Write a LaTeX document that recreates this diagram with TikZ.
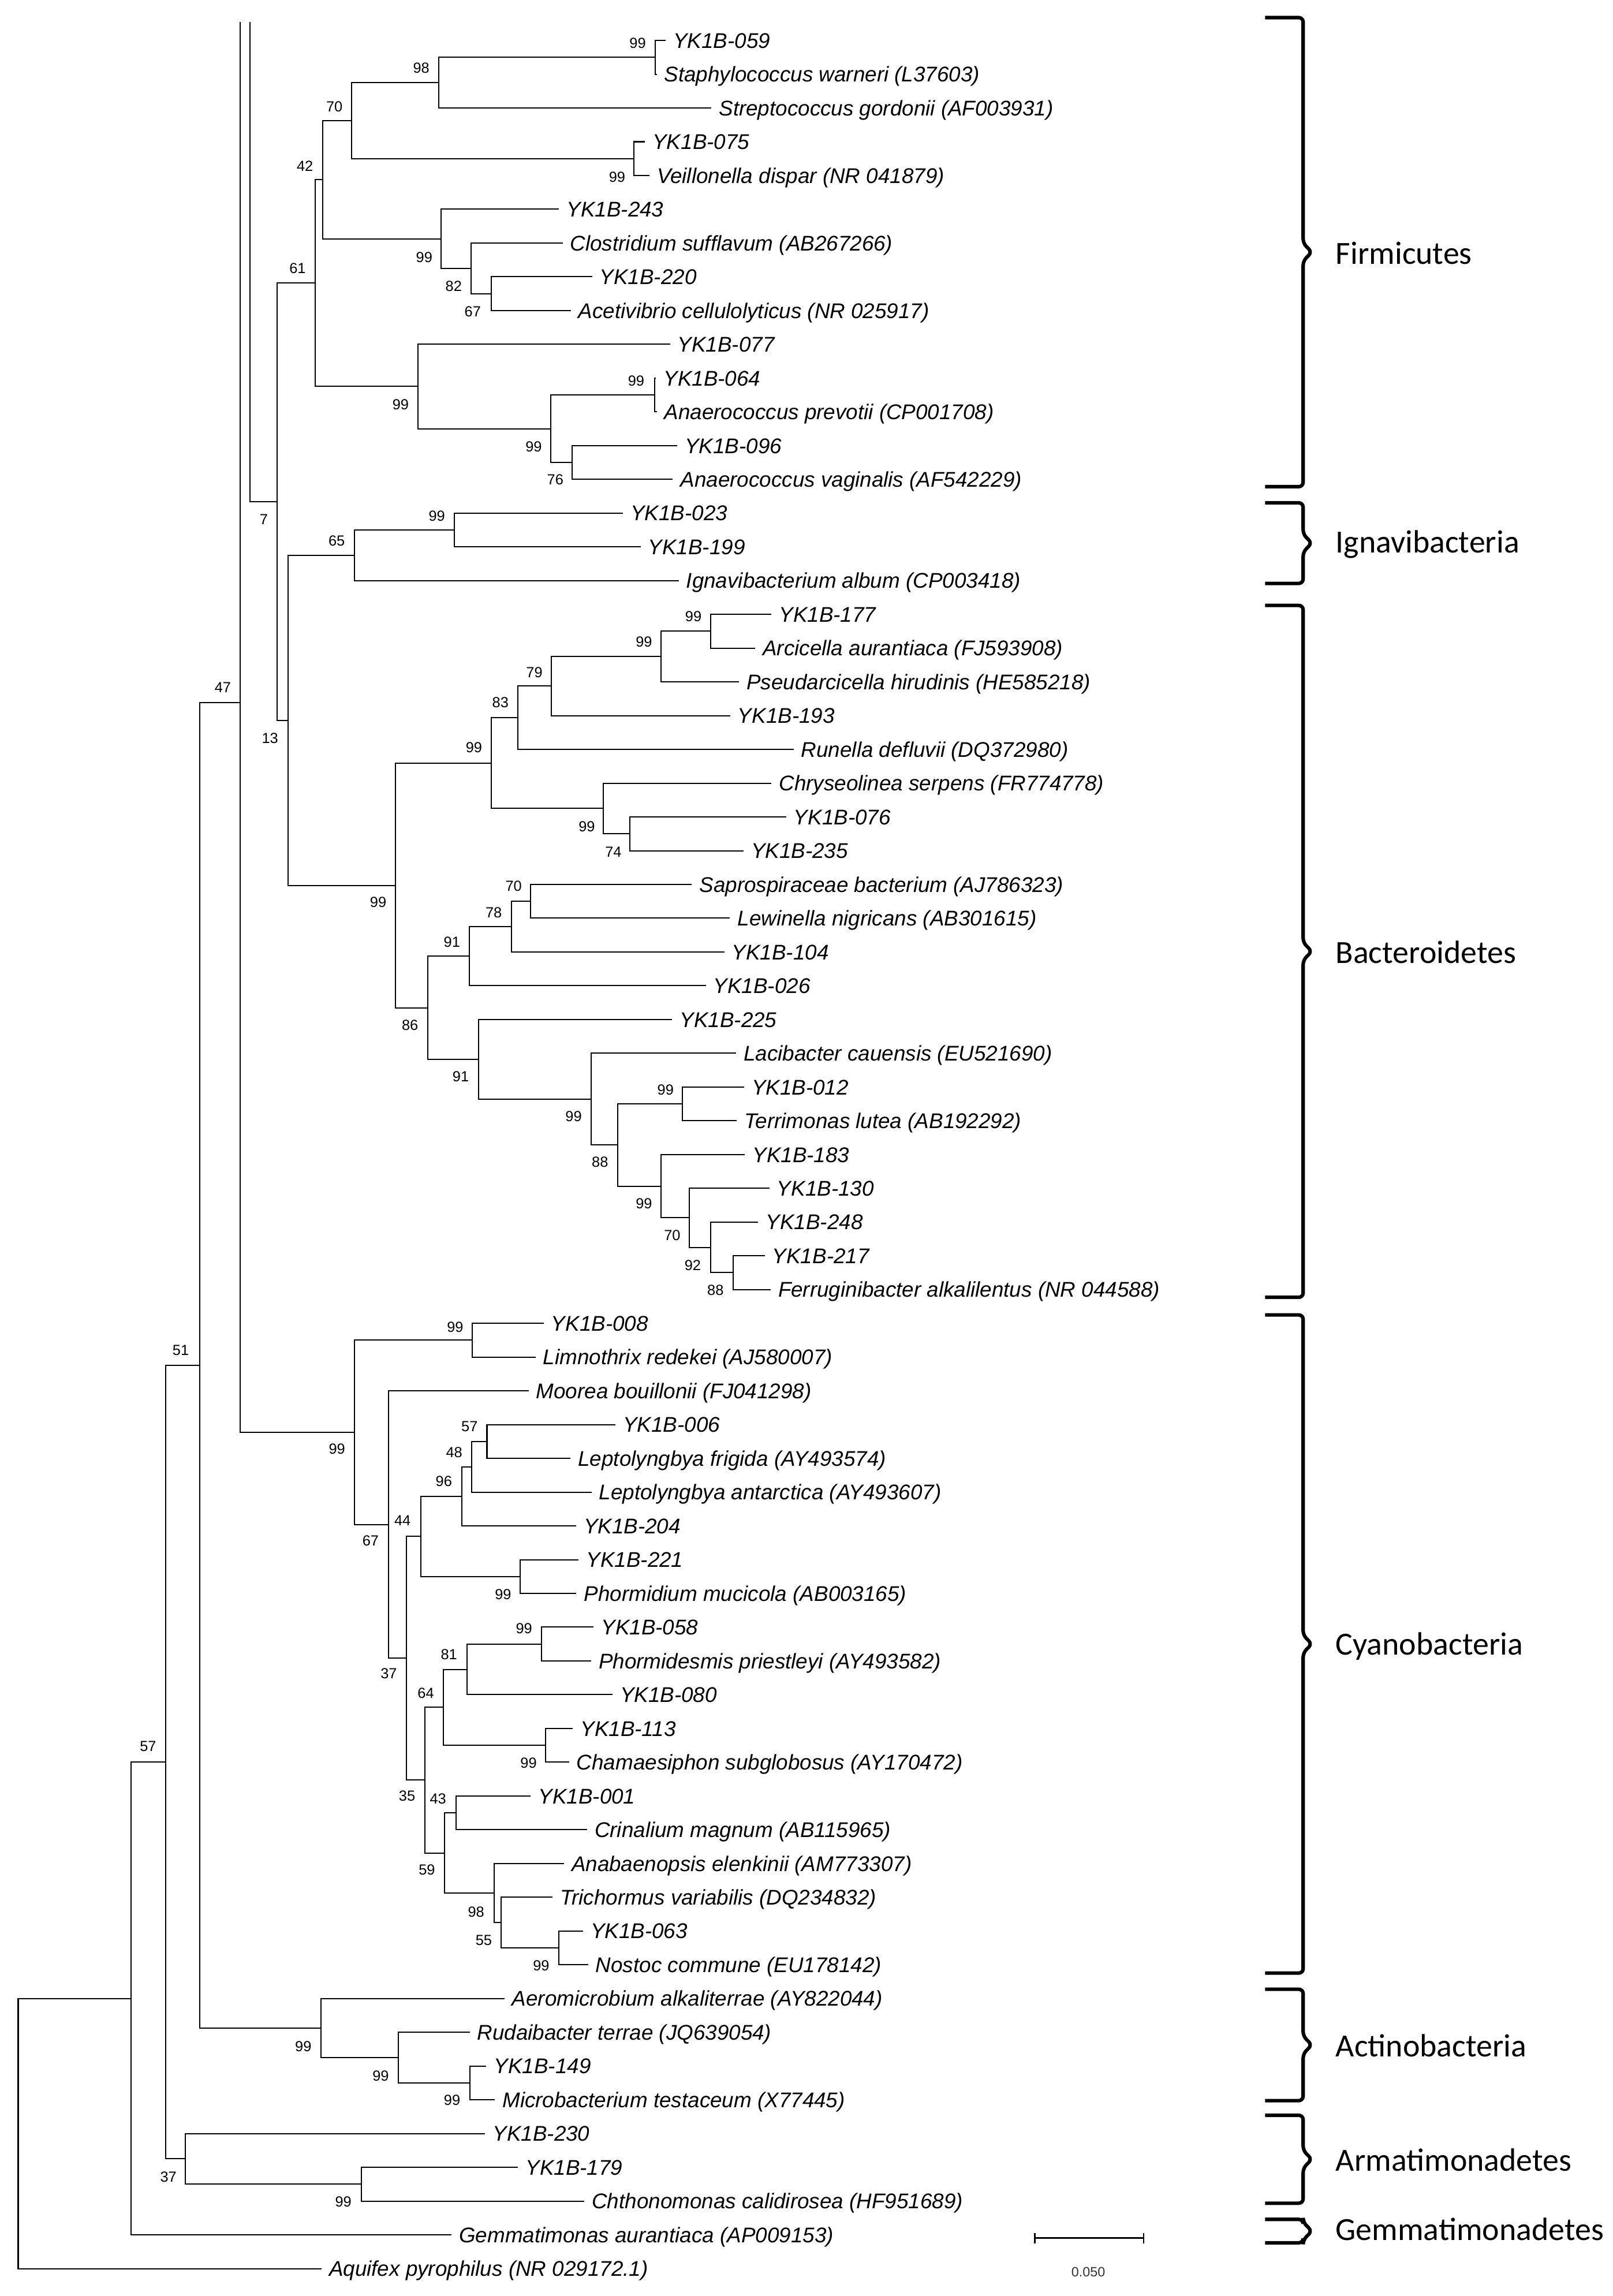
\documentclass[tikz,border=0pt]{standalone}
\usepackage{fontspec}
\setmainfont{Liberation Sans}
\newfontfamily\cladefont{Carlito}
\usetikzlibrary{calc}
\tikzset{
  br/.style={line width=0.8pt},
  leaf/.style={anchor=west, inner xsep=5pt, inner ysep=0pt, text height=10.4pt, text depth=0pt, font=\fontsize{14.5}{16}\selectfont\itshape},
  bs/.style={inner sep=0pt, text height=7.2pt, text depth=0pt, font=\fontsize{10}{11}\selectfont},
  clade/.style={anchor=west, inner sep=0pt, text height=14.2pt, text depth=0pt, font=\cladefont\fontsize{22}{24}\selectfont},
  bracestyle/.style={line width=2.4pt, rounded corners=3pt}
}
\newcommand\tn[4]{%
  \path ($(#3)!0.5!(#4)$) coordinate (m#1);
  \path let \p1=(m#1) in coordinate (#1) at (#2pt,\y1);
  \draw[br] (#3) -- (#1 |- #3) -- (#1 |- #4) -- (#4);
}
\newcommand\brc[2]{%
  \pgfmathsetmacro\bmid{(#1+#2)/2}
  \draw[bracestyle] (863,#1) -- (889,#1) -- (889,\bmid-6) -- (895,\bmid) -- (889,\bmid+6) -- (889,#2) -- (863,#2);
}
\begin{document}
\begin{tikzpicture}[x=1pt,y=-1pt]
\useasboundingbox (0,0) rectangle (1100,1566.3);
% leaves
\node[leaf] (l1) at (454.1,27.6) {YK1B-059};
\node[leaf] (l2) at (448,50.63) {Staphylococcus warneri (L37603)};
\node[leaf] (l3) at (485.3,73.66) {Streptococcus gordonii (AF003931)};
\node[leaf] (l4) at (440,96.69) {YK1B-075};
\node[leaf] (l5) at (443,119.72) {Veillonella dispar (NR 041879)};
\node[leaf] (l6) at (381.4,142.75) {YK1B-243};
\node[leaf] (l7) at (383.8,165.78) {Clostridium sufflavum (AB267266)};
\node[leaf] (l8) at (403.9,188.81) {YK1B-220};
\node[leaf] (l9) at (389.4,211.84) {Acetivibrio cellulolyticus (NR 025917)};
\node[leaf] (l10) at (457.1,234.87) {YK1B-077};
\node[leaf] (l11) at (447.5,257.9) {YK1B-064};
\node[leaf] (l12) at (448,280.93) {Anaerococcus prevotii (CP001708)};
\node[leaf] (l13) at (462,303.96) {YK1B-096};
\node[leaf] (l14) at (459,326.99) {Anaerococcus vaginalis (AF542229)};
\node[leaf] (l15) at (425,350.02) {YK1B-023};
\node[leaf] (l16) at (437,373.05) {YK1B-199};
\node[leaf] (l17) at (463,396.08) {Ignavibacterium album (CP003418)};
\node[leaf] (l18) at (526.3,419.11) {YK1B-177};
\node[leaf] (l19) at (515.2,442.14) {Arcicella aurantiaca (FJ593908)};
\node[leaf] (l20) at (504.2,465.17) {Pseudarcicella hirudinis (HE585218)};
\node[leaf] (l21) at (498.1,488.2) {YK1B-193};
\node[leaf] (l22) at (541.4,511.23) {Runella defluvii (DQ372980)};
\node[leaf] (l23) at (526.3,534.26) {Chryseolinea serpens (FR774778)};
\node[leaf] (l24) at (536.3,557.29) {YK1B-076};
\node[leaf] (l25) at (507.2,580.32) {YK1B-235};
\node[leaf] (l26) at (472,603.35) {Saprospiraceae bacterium (AJ786323)};
\node[leaf] (l27) at (498,626.38) {Lewinella nigricans (AB301615)};
\node[leaf] (l28) at (494.1,649.41) {YK1B-104};
\node[leaf] (l29) at (481.5,672.44) {YK1B-026};
\node[leaf] (l30) at (458.6,695.47) {YK1B-225};
\node[leaf] (l31) at (502.2,718.5) {Lacibacter cauensis (EU521690)};
\node[leaf] (l32) at (507.6,741.53) {YK1B-012};
\node[leaf] (l33) at (502.7,764.56) {Terrimonas lutea (AB192292)};
\node[leaf] (l34) at (508.2,787.59) {YK1B-183};
\node[leaf] (l35) at (524.9,810.62) {YK1B-130};
\node[leaf] (l36) at (517.3,833.65) {YK1B-248};
\node[leaf] (l37) at (521.7,856.68) {YK1B-217};
\node[leaf] (l38) at (525.7,879.71) {Ferruginibacter alkalilentus (NR 044588)};
\node[leaf] (l39) at (370.9,902.74) {YK1B-008};
\node[leaf] (l40) at (365.3,925.77) {Limnothrix redekei (AJ580007)};
\node[leaf] (l41) at (360.6,948.8) {Moorea bouillonii (FJ041298)};
\node[leaf] (l42) at (419.8,971.83) {YK1B-006};
\node[leaf] (l43) at (389.2,994.86) {Leptolyngbya frigida (AY493574)};
\node[leaf] (l44) at (403.5,1017.89) {Leptolyngbya antarctica (AY493607)};
\node[leaf] (l45) at (393,1040.92) {YK1B-204};
\node[leaf] (l46) at (394.8,1063.95) {YK1B-221};
\node[leaf] (l47) at (393.2,1086.98) {Phormidium mucicola (AB003165)};
\node[leaf] (l48) at (405,1110.01) {YK1B-058};
\node[leaf] (l49) at (403.3,1133.04) {Phormidesmis priestleyi (AY493582)};
\node[leaf] (l50) at (417.8,1156.07) {YK1B-080};
\node[leaf] (l51) at (390.8,1179.1) {YK1B-113};
\node[leaf] (l52) at (388.2,1202.13) {Chamaesiphon subglobosus (AY170472)};
\node[leaf] (l53) at (362.1,1225.16) {YK1B-001};
\node[leaf] (l54) at (400.5,1248.19) {Crinalium magnum (AB115965)};
\node[leaf] (l55) at (384.7,1271.22) {Anabaenopsis elenkinii (AM773307)};
\node[leaf] (l56) at (377,1294.25) {Trichormus variabilis (DQ234832)};
\node[leaf] (l57) at (397.7,1317.28) {YK1B-063};
\node[leaf] (l58) at (401.2,1340.31) {Nostoc commune (EU178142)};
\node[leaf] (l59) at (344.1,1363.34) {Aeromicrobium alkaliterrae (AY822044)};
\node[leaf] (l60) at (320.4,1386.37) {Rudaibacter terrae (JQ639054)};
\node[leaf] (l61) at (331.8,1409.4) {YK1B-149};
\node[leaf] (l62) at (337.6,1432.43) {Microbacterium testaceum (X77445)};
\node[leaf] (l63) at (331,1455.46) {YK1B-230};
\node[leaf] (l64) at (353.4,1478.49) {YK1B-179};
\node[leaf] (l65) at (398.6,1501.52) {Chthonomonas calidirosea (HF951689)};
\node[leaf] (l66) at (308,1524.55) {Gemmatimonas aurantiaca (AP009153)};
\node[leaf] (l67) at (219.3,1547.58) {Aquifex pyrophilus (NR 029172.1)};
% Firmicutes
\tn{nA}{447.1}{l1.west}{l2.west}
\tn{nB}{299.4}{nA}{l3.west}
\tn{nC}{432.6}{l4.west}{l5.west}
\tn{nD}{239.7}{nB}{nC}
\tn{nE}{335}{l8.west}{l9.west}
\tn{nF}{321.5}{l7.west}{nE}
\tn{nG}{301}{l6.west}{nF}
\tn{nH}{220}{nD}{nG}
\tn{nI}{446.5}{l11.west}{l12.west}
\tn{nJ}{390.4}{l13.west}{l14.west}
\tn{nK}{375.7}{nI}{nJ}
\tn{nL}{285}{l10.west}{nK}
\tn{nM}{215}{nH}{nL}
% Ignavibacteria
\tn{nN}{309.8}{l15.west}{l16.west}
\tn{nO}{241.9}{nN}{l17.west}
% Bacteroidetes
\tn{nP}{484.7}{l18.west}{l19.west}
\tn{nQ}{450.9}{nP}{l20.west}
\tn{nR}{376.2}{nQ}{l21.west}
\tn{nS}{353.4}{nR}{l22.west}
\tn{nT}{429.8}{l24.west}{l25.west}
\tn{nU}{411.7}{l23.west}{nT}
\tn{nV}{335}{nS}{nU}
\tn{nW}{361.9}{l26.west}{l27.west}
\tn{nX}{348.8}{nW}{l28.west}
\tn{nY}{320.3}{nX}{l29.west}
\tn{zA}{500.2}{l37.west}{l38.west}
\tn{zB}{484.7}{l36.west}{zA}
\tn{zC}{470.2}{l35.west}{zB}
\tn{zD}{450.9}{l34.west}{zC}
\tn{zE}{465.6}{l32.west}{l33.west}
\tn{zF}{421.4}{zE}{zD}
\tn{zG}{403.3}{l31.west}{zF}
\tn{zH}{326.3}{l30.west}{zG}
\tn{zI}{291.8}{nY}{zH}
\tn{nBac}{269.7}{nV}{zI}
\tn{nXIII}{196.6}{nO}{nBac}
\tn{nVII}{189}{nM}{nXIII}
% Cyanobacteria
\tn{c1}{322.3}{l39.west}{l40.west}
\tn{c2}{332.2}{l42.west}{l43.west}
\tn{c3}{321.7}{c2}{l44.west}
\tn{c4}{314.9}{c3}{l45.west}
\tn{c5}{355}{l46.west}{l47.west}
\tn{c6}{287}{c4}{c5}
\tn{c7}{369.3}{l48.west}{l49.west}
\tn{c8}{318.7}{c7}{l50.west}
\tn{c9}{372.3}{l51.west}{l52.west}
\tn{c10}{302.5}{c8}{c9}
\tn{c11}{311.1}{l53.west}{l54.west}
\tn{c12}{381.4}{l57.west}{l58.west}
\tn{c13}{341.9}{l56.west}{c12}
\tn{c14}{337}{l55.west}{c13}
\tn{c15}{303.3}{c11}{c14}
\tn{c16}{290}{c10}{c15}
\tn{c17}{277.4}{c6}{c16}
\tn{c18}{264.9}{l41.west}{c17}
\tn{c19}{241.9}{c1}{c18}
% upper (cut) lines
\coordinate (tA) at (170.4,14.9);
\coordinate (tB) at (164,14.9);
\coordinate (n164) at (164,479.3);
\draw[br] (tA) -- (tA |- nVII) -- (nVII);
\draw[br] (tB) -- (tB |- c19) -- (c19);
% Actinobacteria
\tn{a1}{320.7}{l61.west}{l62.west}
\tn{a2}{271.7}{l60.west}{a1}
\tn{a3}{218.8}{l59.west}{a2}
\tn{nXLVII}{136.3}{n164}{a3}
% Armatimonadetes
\tn{m1}{246.7}{l64.west}{l65.west}
\tn{m2}{126.6}{l63.west}{m1}
\tn{nLI}{113.2}{nXLVII}{m2}
\tn{nLVII}{89.3}{nLI}{l66.west}
\tn{root}{12.4}{nLVII}{l67.west}
% bootstrap values
\node[bs] (b1) at (435,29.2) {99};
\node[bs] (b2) at (287.4,46.4) {98};
\node[bs] (b3) at (228.1,72.5) {70};
\node[bs] (b4) at (421,120.5) {99};
\node[bs] (b5) at (208,113.2) {42};
\node[bs] (b6) at (289.4,175.3) {99};
\node[bs] (b7) at (309.5,194.9) {82};
\node[bs] (b8) at (322.5,212.6) {67};
\node[bs] (b9) at (203,183) {61};
\node[bs] (b10) at (273.3,275.8) {99};
\node[bs] (b11) at (364.1,304.6) {99};
\node[bs] (b12) at (434,259.7) {99};
\node[bs] (b13) at (378.8,327.1) {76};
\node[bs] (b14) at (180,354) {7};
\node[bs] (b15) at (184.2,503.4) {13};
\node[bs] (b16) at (229.7,368.9) {65};
\node[bs] (b17) at (298,351.7) {99};
\node[bs] (b18) at (152,469) {47};
\node[bs] (b19) at (123.3,921) {51};
\node[bs] (b20) at (101,1191) {57};
\node[bs] (b21) at (114.9,1484.8) {37};
\node[bs] (b22) at (258,615.2) {99};
\node[bs] (b23) at (323.3,509.9) {99};
\node[bs] (b24) at (341.4,479.2) {83};
\node[bs] (b25) at (364.5,458.5) {79};
\node[bs] (b26) at (439.3,437.8) {99};
\node[bs] (b27) at (473,420.4) {99};
\node[bs] (b28) at (400.3,563.8) {99};
\node[bs] (b29) at (418.4,581.2) {74};
\node[bs] (b30) at (350.4,604.3) {70};
\node[bs] (b31) at (336.8,622.3) {78};
\node[bs] (b32) at (308.3,642.5) {91};
\node[bs] (b33) at (279.7,699) {86};
\node[bs] (b34) at (314.3,734.3) {91};
\node[bs] (b35) at (391.3,761.3) {99};
\node[bs] (b36) at (409.3,792.5) {88};
\node[bs] (b37) at (454,743.2) {99};
\node[bs] (b38) at (439.3,820.8) {99};
\node[bs] (b39) at (458.6,842.4) {70};
\node[bs] (b40) at (472.6,863) {92};
\node[bs] (b41) at (488.1,879.8) {88};
\node[bs] (b42) at (310.5,905.2) {99};
\node[bs] (b43) at (229.9,988.1) {99};
\node[bs] (b44) at (252.8,1050.9) {67};
\node[bs] (b45) at (274.6,1037.3) {44};
\node[bs] (b46) at (302.8,1010.3) {96};
\node[bs] (b47) at (309.8,990.5) {48};
\node[bs] (b48) at (320.3,972.8) {57};
\node[bs] (b49) at (343.2,1087.4) {99};
\node[bs] (b50) at (265.2,1141.6) {37};
\node[bs] (b51) at (290.5,1154.7) {64};
\node[bs] (b52) at (306.3,1128.5) {81};
\node[bs] (b53) at (357.5,1110.6) {99};
\node[bs] (b54) at (360.6,1202.4) {99};
\node[bs] (b55) at (277.7,1225.1) {35};
\node[bs] (b56) at (298.8,1226.8) {43};
\node[bs] (b57) at (291.2,1275.2) {59};
\node[bs] (b58) at (324.8,1304.2) {98};
\node[bs] (b59) at (330,1323.6) {55};
\node[bs] (b60) at (369.2,1340.8) {99};
\node[bs] (b61) at (206.9,1395.8) {99};
\node[bs] (b62) at (259.7,1415.8) {99};
\node[bs] (b63) at (308.4,1432.7) {99};
\node[bs] (b64) at (234.2,1501.7) {99};
% clade brackets and names
\brc{12}{332}
\brc{343}{398}
\brc{413}{885}
\brc{897}{1346}
\brc{1357}{1433}
\brc{1443}{1503}
\brc{1514}{1530}
\node[clade] (k1) at (911,173) {Firmicutes};
\node[clade] (k2) at (911,370) {Ignavibacteria};
\node[clade] (k3) at (911,650) {Bacteroidetes};
\node[clade] (k4) at (911,1122) {Cyanobacteria};
\node[clade] (k5) at (911,1396) {Actinobacteria};
\node[clade] (k6) at (911,1474) {Armatimonadetes};
\node[clade] (k7) at (911,1521) {Gemmatimonadetes};
% scale bar
\coordinate (s1) at (706,1526.8);
\coordinate (s2) at (780.2,1526.8);
\draw[line width=1pt] (s1) -- (s2);
\draw[line width=1pt] ([yshift=3.5pt]s1) -- ([yshift=-3.5pt]s1);
\draw[line width=1pt] ([yshift=3.5pt]s2) -- ([yshift=-3.5pt]s2);
\node[inner sep=0pt, text height=6.6pt, text depth=0pt, font=\fontsize{9.2}{10}\selectfont, text=black!80] (sl) at (742.4,1549.8) {0.050};
\end{tikzpicture}
\end{document}
